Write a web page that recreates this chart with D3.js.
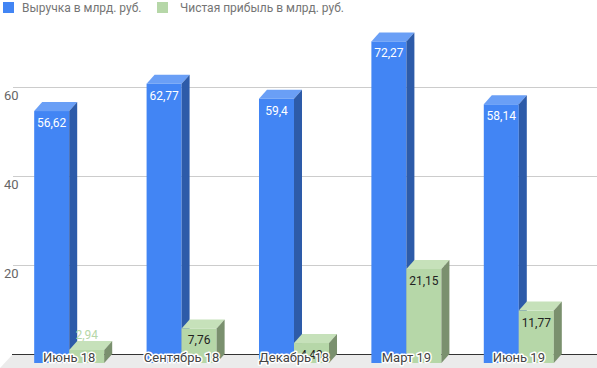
<!DOCTYPE html>
<html><head><meta charset="utf-8">
<script src="https://cdn.jsdelivr.net/npm/d3@7/dist/d3.min.js"></script>
<style>body{margin:0;background:#fff}svg{display:block;font-family:Roboto,Arial,sans-serif}</style>
</head><body><svg id="c" width="597" height="368"></svg>
<script>
const categories = ["Июнь 18","Сентябрь 18","Декабрь 18","Март 19","Июнь 19"];
const revenue = [56.62,62.77,59.4,72.27,58.14];
const profit = [2.94,7.76,4.49,21.15,11.77];
const seriesNames = ["Выручка в млрд. руб.","Чистая прибыль в млрд. руб."];
const yTicks = [20,40,60];

const W=597,H=368, dx=8, dy=9;
const svg=d3.select("#c");
const y=d3.scaleLinear().domain([0,60]).range([354,87]);
const x=d3.scaleBand().domain(categories).range([21,583]).paddingInner(0.377).paddingOuter(0.1885);
const xs=d3.scaleBand().domain([0,1]).range([0,x.bandwidth()]);
const fmt=v=>String(v).replace('.',',');
const colors=[{front:"#4285f4",top:"#6a9ff6",side:"#2d5ba9",lab:"#ffffff"},
              {front:"#b6d7a8",top:"#c6e1ba",side:"#7a906e",lab:"#222222"}];

// floor
svg.append("path").attr("d",`M${13},${y(0)} L${W},${y(0)} L${W},${H} L${0},${H} Z`).attr("fill","#ebebeb");
// gridlines
yTicks.forEach(t=>{
  svg.append("line").attr("x1",13).attr("x2",W).attr("y1",Math.round(y(t))+0.5).attr("y2",Math.round(y(t))+0.5).attr("stroke","#cccccc");
  svg.append("text").attr("x",4).attr("y",y(t)+13).attr("font-size",13).attr("fill","#666").text(t);
});
svg.append("line").attr("x1",12).attr("x2",W).attr("y1",Math.round(y(0))+0.5).attr("y2",Math.round(y(0))+0.5).attr("stroke","#333");

const series=[revenue,profit];
const bottom=y(0)+dy;
const g=svg.append("g");
categories.forEach((c,i)=>{
  series.forEach((s,j)=>{
    const v=s[i], w=xs.bandwidth();
    const bx=x(c)+xs(j), by=y(v);
    const fx=bx-dx, fy=by+dy;
    const col=colors[j];
    g.append("rect").attr("x",fx).attr("y",fy).attr("width",w).attr("height",bottom-fy).attr("fill",col.front);
    g.append("path").attr("d",`M${fx},${fy} L${fx+dx},${fy-dy} L${fx+w+dx},${fy-dy} L${fx+w},${fy} Z`).attr("fill",col.top);
    g.append("path").attr("d",`M${fx+w},${fy} L${fx+w+dx},${fy-dy} L${fx+w+dx},${bottom-dy} L${fx+w},${bottom} Z`).attr("fill",col.side);
    const inside=(bottom-fy)>15;
    g.append("text").attr("x",fx+w/2).attr("y",inside?fy+16:by-2).attr("text-anchor","middle")
      .attr("font-size",12).attr("fill",inside?col.lab:colors[j].front).text(fmt(v));
  });
});
// category labels
svg.append("g").selectAll("text").data(categories).join("text")
  .attr("x",d=>x(d)+x.bandwidth()/2-dx).attr("y",362).attr("text-anchor","middle").attr("font-size",13)
  .attr("fill","#444").attr("stroke","#fff").attr("stroke-width",3).attr("paint-order","stroke").attr("stroke-linejoin","round").text(d=>d);
// legend
const leg=svg.append("g");
const lx=[3,157], tx=[22,180];
seriesNames.forEach((n,j)=>{
  leg.append("rect").attr("x",lx[j]).attr("y",2).attr("width",11).attr("height",11).attr("fill",colors[j].front);
  leg.append("text").attr("x",tx[j]).attr("y",12).attr("font-size",12).attr("fill","#757575").text(n);
});
</script></body></html>
